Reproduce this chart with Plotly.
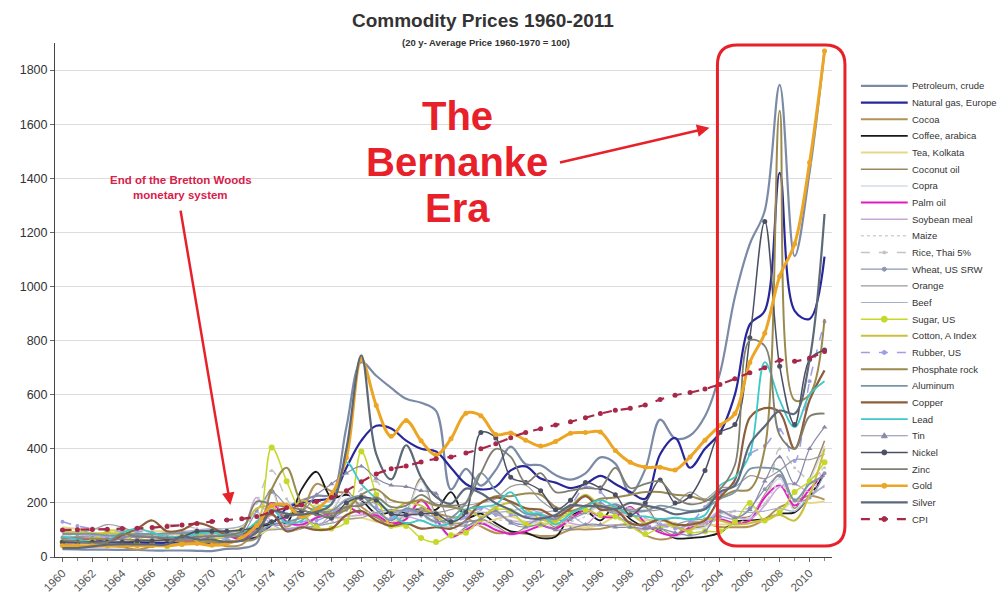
import plotly.graph_objects as go

years = list(range(1960, 2012))

petroleum = [29,28,27,27,26,26,24,24,24,23,
             22,30,33,51,197,188,209,226,232,480,
             720,670,625,585,570,540,250,326,264,322,
             408,343,339,303,286,309,368,345,235,324,
             508,438,449,520,679,961,1157,1280,1745,1112,
             1423,1872]
natural_gas = [55,55,54,54,53,53,52,52,52,52,
               52,55,60,75,120,180,200,210,220,330,
               430,485,475,430,400,390,330,270,250,260,
               320,335,290,275,255,270,300,270,240,215,
               380,440,330,400,460,600,860,910,1420,910,
               880,1110]
cocoa = [45,40,37,40,37,27,39,43,53,65,
         54,40,46,101,155,112,163,270,243,235,
         186,148,125,152,171,161,148,143,113,89,
         90,86,78,80,101,102,104,116,119,81,
         65,77,127,125,111,110,113,139,184,205,
         226,212]
coffee = [75,70,65,65,85,80,75,68,68,70,
          90,80,85,110,120,125,250,315,220,230,
          210,160,165,165,180,175,240,145,160,125,
          95,90,70,75,150,170,135,190,140,110,
          100,70,70,75,90,130,135,140,160,165,
          225,310]
tea = [110,105,105,100,100,100,95,95,85,80,
       90,85,80,80,105,100,110,195,150,140,
       145,130,125,150,215,150,135,120,120,140,
       150,130,125,120,115,110,120,150,155,135,
       140,125,115,115,120,120,130,135,165,210,
       200,205]
coconut_oil = [75,70,65,75,80,85,75,85,95,95,
               100,95,65,125,250,100,105,145,170,245,
               170,145,115,165,290,150,75,110,140,115,
               85,110,145,110,150,165,190,165,165,185,
               110,80,105,115,165,150,150,230,305,180,
               290,430]
copra = [80,72,68,78,82,88,78,88,98,92,
         98,90,62,130,240,95,110,150,175,240,
         165,140,110,160,280,140,70,105,130,110,
         80,105,140,105,145,160,185,160,160,175,
         105,75,100,110,160,145,145,225,290,170,
         280,410]
palm_oil = [70,68,65,68,72,80,75,70,60,58,
            75,80,65,110,200,130,120,145,160,185,
            160,155,125,140,210,140,75,100,125,100,
            85,95,115,105,140,175,150,150,185,125,
            90,80,110,125,140,125,135,220,265,190,
            250,310]
soybean_meal = [60,70,70,72,70,75,80,78,75,72,
                80,82,95,220,130,120,150,160,145,150,
                155,160,140,150,135,115,130,150,185,160,
                135,130,135,140,125,120,170,190,120,100,
                120,120,115,130,170,150,140,190,260,270,
                240,260]
maize = [75,75,78,82,82,85,88,82,78,82,
         90,88,85,135,180,165,150,125,130,145,
         160,165,135,160,165,135,110,95,125,135,
         135,130,125,125,130,150,200,145,125,110,
         110,110,120,125,135,120,150,200,270,200,
         225,350]
rice = [75,80,85,80,80,80,100,120,115,105,
        85,75,85,200,320,215,150,160,210,200,
        250,280,175,160,150,125,110,125,175,185,
        160,170,160,145,160,190,200,180,180,145,
        120,105,115,120,145,170,180,195,400,330,
        290,330]
wheat = [72,75,78,76,78,70,75,72,68,65,
         68,72,85,170,240,190,160,120,140,175,
         195,200,170,175,165,145,120,115,140,165,
         130,120,140,135,140,165,200,155,125,110,
         110,120,135,140,150,140,180,250,300,210,
         220,310]
orange = [95,90,100,120,110,90,85,85,90,95,
          100,95,95,100,100,105,110,115,125,140,
          145,165,175,170,180,165,175,190,200,215,
          260,265,210,175,185,190,180,160,175,170,
          175,195,240,215,255,260,300,290,320,360,
          360,380]
beef = [85,82,80,75,85,85,88,85,90,100,
        105,105,115,165,120,100,115,110,160,215,
        210,180,165,160,155,150,140,160,165,165,
        170,180,165,170,155,120,115,120,115,125,
        130,145,135,125,160,170,165,170,180,170,
        220,265]
sugar = [55,60,62,95,90,50,45,40,48,55,
         65,75,95,115,405,280,160,110,105,130,
         390,230,115,115,70,55,80,90,140,175,
         170,120,120,130,165,175,155,150,115,85,
         110,115,90,95,95,130,200,135,165,240,
         280,350]
cotton = [90,92,88,88,88,86,82,88,85,80,
          85,95,105,180,185,150,210,180,175,185,
          225,200,170,200,190,150,120,175,150,185,
          200,180,140,135,185,230,190,180,160,125,
          140,110,100,140,135,120,125,140,155,135,
          230,400]
rubber = [130,115,105,100,95,95,90,75,75,90,
          75,65,65,125,130,100,130,135,160,200,
          230,185,145,170,155,130,130,145,180,155,
          155,150,155,150,190,260,240,170,125,115,
          120,105,125,185,235,270,380,410,470,355,
          650,870]
phosphate = [70,70,68,66,65,63,62,60,58,55,
             55,57,60,70,250,330,200,170,160,175,
             230,250,210,200,210,190,185,175,200,225,
             225,235,230,185,170,190,215,220,230,240,
             240,230,225,210,220,245,250,400,1650,580,
             600,880]
aluminum = [85,85,85,80,82,85,85,87,88,90,
            95,90,85,90,120,130,145,165,170,210,
            225,175,135,180,160,130,145,200,310,245,
            200,160,155,140,185,225,185,195,170,170,
            190,180,170,180,215,240,325,330,320,210,
            270,300]
copper = [55,52,52,52,80,105,135,95,100,125,
          110,80,80,125,160,95,110,100,105,155,
          170,135,115,125,105,110,105,135,200,220,
          205,180,175,150,180,225,175,175,125,120,
          140,120,120,135,220,285,515,550,535,400,
          580,690]
lead = [75,65,55,60,90,105,90,75,75,85,
        90,80,90,130,175,125,135,185,195,350,
        270,215,160,125,135,115,125,175,185,195,
        240,165,160,120,160,185,210,185,155,150,
        140,145,140,155,265,295,380,720,580,480,
        600,650]
tin = [45,50,50,52,70,80,75,70,65,72,
       80,75,80,95,170,150,165,230,270,310,
       335,290,265,260,245,235,125,130,140,170,
       125,110,120,100,105,120,120,110,110,105,
       105,90,80,95,170,145,175,280,370,270,
       400,480]
nickel = [55,55,55,55,55,58,60,65,75,95,
          95,95,100,110,130,150,170,160,145,200,
          220,210,160,155,160,160,130,165,460,440,
          295,275,245,175,210,275,255,230,155,200,
          285,200,225,320,460,490,810,1240,705,490,
          730,765]
zinc = [62,58,50,55,85,75,72,70,68,75,
        75,80,95,205,195,185,175,155,150,185,
        190,220,185,190,230,195,190,200,310,400,
        370,275,310,240,245,255,255,330,255,270,
        280,220,195,205,250,340,800,780,450,400,
        520,530]
gold = [42,42,42,42,42,42,42,42,47,50,
        43,49,70,116,190,191,149,176,230,367,
        730,560,446,505,430,377,437,531,522,453,
        458,432,410,427,457,460,462,394,350,332,
        332,322,370,432,486,530,719,827,1038,1157,
        1458,1870]
silver = [33,33,39,46,47,47,47,47,77,65,
          64,56,61,92,170,160,157,167,195,400,
          745,380,287,413,294,222,197,253,236,199,
          174,146,142,155,191,188,188,177,200,190,
          179,158,166,176,241,264,417,483,541,530,
          729,1268]
cpi = [100,101,102,103,105,106,109,113,118,124,
       131,137,141,150,167,182,192,205,220,245,
       278,307,326,336,351,363,370,384,400,419,
       441,460,474,488,500,515,530,542,550,562,
       582,598,608,621,638,659,681,700,727,724,
       736,760]

tick_years = list(range(1960, 2011, 2))
tick_labels = [str(y) for y in tick_years]
y_ticks = list(range(0, 1801, 200))

# (name, values, color, width, dash, marker symbol, marker size)
series = [
    ("Petroleum, crude", petroleum, "#7b8aa6", 2.2, "solid", None, 0),
    ("Natural gas, Europe", natural_gas, "#27279b", 2.2, "solid", None, 0),
    ("Cocoa", cocoa, "#b39257", 2.0, "solid", None, 0),
    ("Coffee, arabica", coffee, "#1a1a1a", 1.8, "solid", None, 0),
    ("Tea, Kolkata", tea, "#e6d88a", 2.0, "solid", None, 0),
    ("Coconut oil", coconut_oil, "#9c8760", 1.5, "solid", None, 0),
    ("Copra", copra, "#d3dbe8", 1.5, "solid", None, 0),
    ("Palm oil", palm_oil, "#e21cc4", 2.0, "solid", None, 0),
    ("Soybean meal", soybean_meal, "#c9a6d9", 1.5, "solid", None, 0),
    ("Maize", maize, "#cfcfcf", 1.5, "dot", None, 0),
    ("Rice, Thai 5%", rice, "#c4c4c4", 1.5, "dash", "circle", 3),
    ("Wheat, US SRW", wheat, "#8c96b6", 1.2, "solid", "circle", 4),
    ("Orange", orange, "#9a9a9a", 1.2, "solid", None, 0),
    ("Beef", beef, "#a6aec8", 1.2, "solid", None, 0),
    ("Sugar, US", sugar, "#c6d92a", 1.5, "solid", "circle", 6),
    ("Cotton, A Index", cotton, "#c9c13e", 2.0, "solid", None, 0),
    ("Rubber, US", rubber, "#9e9ee6", 1.5, "dash", "circle", 4),
    ("Phosphate rock", phosphate, "#9a8a50", 2.0, "solid", None, 0),
    ("Aluminum", aluminum, "#7a95a6", 1.8, "solid", None, 0),
    ("Copper", copper, "#8e5e3c", 2.2, "solid", None, 0),
    ("Lead", lead, "#3ec9c9", 1.8, "solid", None, 0),
    ("Tin", tin, "#8a8aa8", 1.2, "solid", "triangle-up", 5),
    ("Nickel", nickel, "#4c5062", 1.5, "solid", "circle", 5),
    ("Zinc", zinc, "#7f7f70", 1.8, "solid", None, 0),
    ("Gold", gold, "#eca524", 3.0, "solid", "circle", 5),
    ("Silver", silver, "#5d6878", 2.2, "solid", None, 0),
    ("CPI", cpi, "#a8284a", 2.2, "dash", "circle", 5),
]

fig = go.Figure()
for name, vals, col, w, dash, sym, ms in series:
    mode = "lines+markers" if sym else "lines"
    tr = dict(x=years, y=vals, name=name, mode=mode,
              line=dict(color=col, width=w, dash=dash, shape="spline", smoothing=1.0),
              showlegend=False)
    if sym:
        tr["marker"] = dict(symbol=sym, size=ms, color=col)
    fig.add_trace(go.Scatter(**tr))

# --- layout geometry (pixels); page body adds an 8px offset ---
OFF = 8
W, H = 1008 - OFF, 606 - OFF
L, T = 52 - OFF, 43 - OFF
PLOT_R, PLOT_B = 832 - OFF, 558 - OFF
R, B = W - PLOT_R, H - PLOT_B
PW, PH = PLOT_R - L, PLOT_B - T


def px(xp):  # reference-window pixel -> paper x
    return (xp - OFF - L) / PW


def py(yp):  # reference-window pixel -> paper y
    return (PLOT_B - (yp - OFF)) / PH


FONT = "Arial, Liberation Sans, sans-serif"

fig.update_layout(
    width=W, height=H,
    margin=dict(l=L, r=R, t=T, b=B),
    plot_bgcolor="white", paper_bgcolor="white",
    font=dict(family=FONT, color="#333"),
    xaxis=dict(range=[1959.5, 2011.5], tickmode="array",
               tickvals=tick_years, ticktext=tick_labels,
               tickangle=-45, tickfont=dict(size=11.5, color="#555"),
               ticks="outside", ticklen=4, tickcolor="#666",
               minor=dict(dtick=1, tick0=1960, ticks="outside", ticklen=3, tickcolor="#888"),
               showline=True, linecolor="#444", linewidth=1, showgrid=False, zeroline=False),
    yaxis=dict(range=[0, 1900], tickmode="array", tickvals=y_ticks,
               tickfont=dict(size=12.5, color="#333"),
               ticks="outside", ticklen=4, tickcolor="#666",
               showline=True, linecolor="#444", linewidth=1,
               showgrid=True, gridcolor="#dcdcdc", zeroline=False),
)

RED = "#e8202a"
anns = []
anns.append(dict(x=px(482), y=py(20), xref="paper", yref="paper", showarrow=False,
                 text="<b>Commodity Prices 1960-2011</b>",
                 font=dict(size=19, color="#333", family=FONT),
                 xanchor="center", yanchor="middle"))
anns.append(dict(x=px(485), y=py(42), xref="paper", yref="paper", showarrow=False,
                 text="<b>(20 y- Average Price 1960-1970 = 100)</b>",
                 font=dict(size=9.5, color="#333", family=FONT),
                 xanchor="center", yanchor="middle"))
for txt, yy in (("The", 116), ("Bernanke", 162), ("Era", 208)):
    anns.append(dict(x=px(456), y=py(yy), xref="paper", yref="paper", showarrow=False,
                     text=f"<b>{txt}</b>",
                     font=dict(size=40, color=RED, family=FONT),
                     xanchor="center", yanchor="middle"))
anns.append(dict(x=px(709), y=py(128), xref="paper", yref="paper", showarrow=True,
                 text="", ax=558 - 709, ay=163 - 128, arrowhead=2, arrowsize=1,
                 arrowwidth=2.5, arrowcolor=RED))
for txt, yy in (("End of the Bretton Woods", 180), ("monetary system", 195)):
    anns.append(dict(x=px(178), y=py(yy), xref="paper", yref="paper", showarrow=False,
                     text=f"<b>{txt}</b>",
                     font=dict(size=11.5, color="#d8204a", family=FONT),
                     xanchor="center", yanchor="middle"))
anns.append(dict(x=px(228), y=py(506), xref="paper", yref="paper", showarrow=True,
                 text="", ax=178 - 228, ay=210 - 506, arrowhead=2, arrowsize=1,
                 arrowwidth=2.5, arrowcolor=RED))

shapes = []
# rounded red frame around 2004-2011 (paper coordinates)
fx0, fx1 = px(717), px(845)
fy0, fy1 = py(547), py(45)
rx, ry = 20 / PW, 20 / PH
path = (f"M {fx0+rx},{fy0} L {fx1-rx},{fy0} Q {fx1},{fy0} {fx1},{fy0+ry} L {fx1},{fy1-ry} "
        f"Q {fx1},{fy1} {fx1-rx},{fy1} L {fx0+rx},{fy1} Q {fx0},{fy1} {fx0},{fy1-ry} "
        f"L {fx0},{fy0+ry} Q {fx0},{fy0} {fx0+rx},{fy0} Z")
shapes.append(dict(type="path", path=path, xref="paper", yref="paper",
                   line=dict(color=RED, width=3)))

# manual legend
n = len(series)
top, bot = 86, 520
step = (bot - top) / (n - 1)
for i, (name, vals, col, w, dash, sym, ms) in enumerate(series):
    yy = top + i * step
    shapes.append(dict(type="line", xref="paper", yref="paper",
                       x0=px(861), x1=px(908), y0=py(yy), y1=py(yy),
                       line=dict(color=col, width=min(w, 2.5), dash=dash)))
    if sym:
        cx = 884.5
        if sym == "triangle-up":
            shapes.append(dict(type="path", xref="paper", yref="paper",
                               path=f"M {px(cx)},{py(yy-3)} L {px(cx+3)},{py(yy+2)} L {px(cx-3)},{py(yy+2)} Z",
                               fillcolor=col, line=dict(color=col, width=1)))
        else:
            r = ms / 2
            shapes.append(dict(type="circle", xref="paper", yref="paper",
                               x0=px(cx - r), x1=px(cx + r), y0=py(yy + r), y1=py(yy - r),
                               fillcolor=col, line=dict(color=col, width=1)))
    anns.append(dict(x=px(910), y=py(yy), xref="paper", yref="paper", showarrow=False,
                     text=name, xanchor="left", yanchor="middle",
                     font=dict(size=9.5, color="#333", family=FONT)))

fig.update_layout(annotations=anns, shapes=shapes)
fig.write_html("out.html")
